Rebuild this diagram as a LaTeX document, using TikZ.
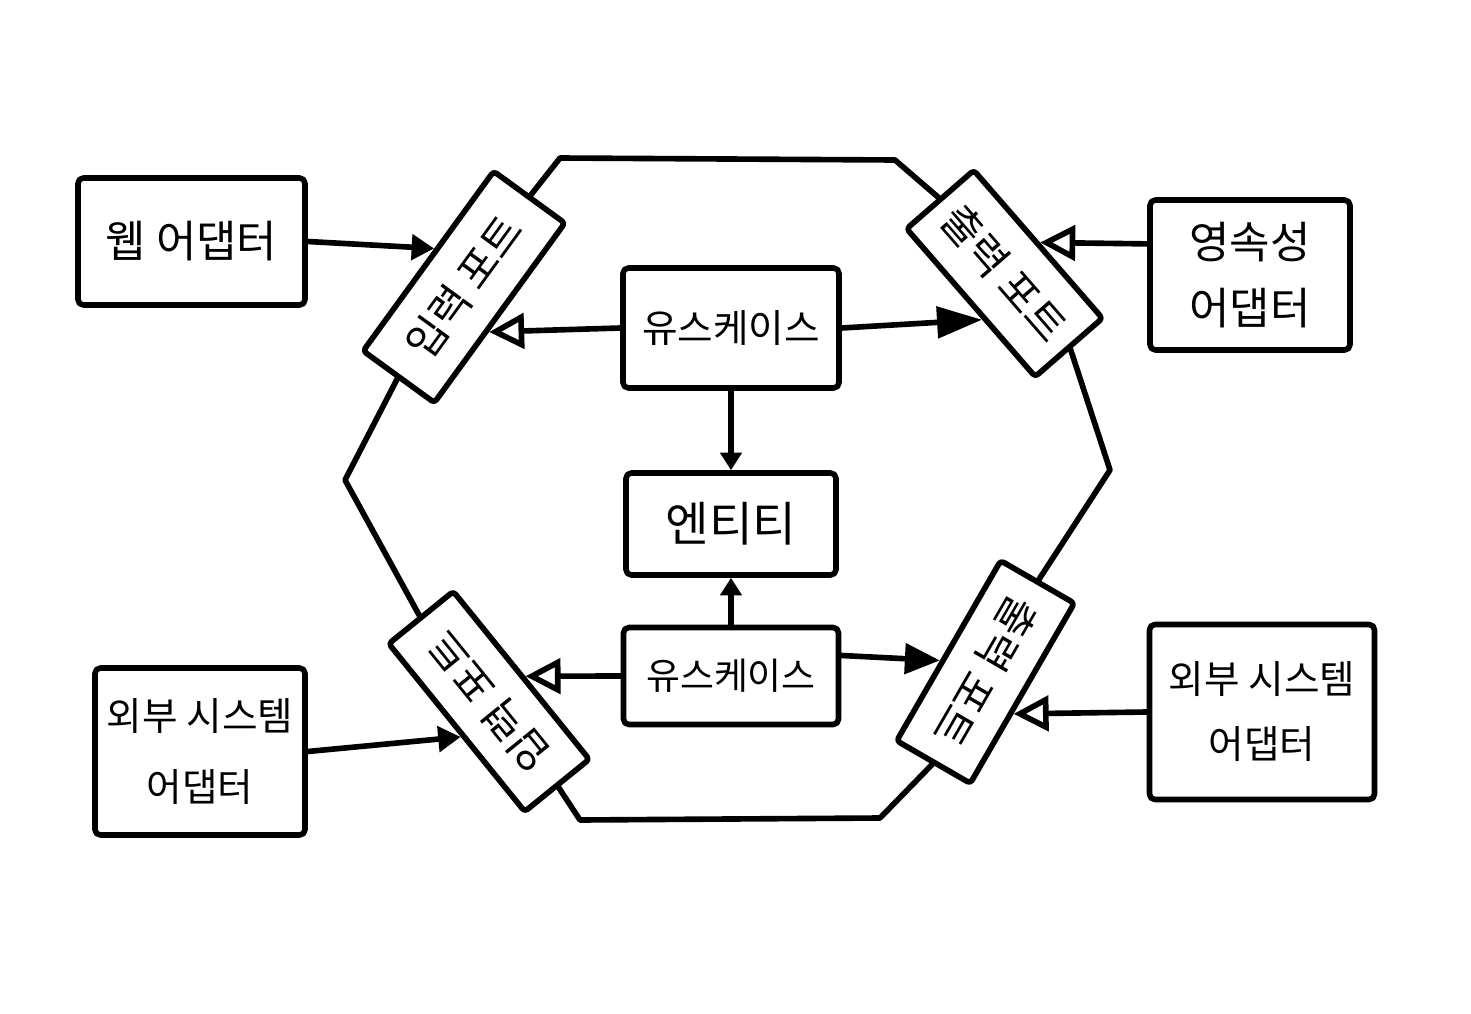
\documentclass[tikz,border=0pt]{standalone}
\usepackage{fontspec}
\setmainfont{Noto Sans CJK KR}
\usetikzlibrary{arrows.meta,calc}
\begin{document}
\begin{tikzpicture}[x=0.02cm,y=-0.02cm,
  line width=3.2pt, line cap=round, line join=round,
  box/.style={draw, rounded corners=3pt, align=center, inner sep=0pt},
  port/.style={draw, rounded corners=2pt, inner sep=0pt, font=\fontsize{24}{28}\selectfont},
  uses/.style={-{Triangle[length=0.45cm,width=0.5cm]}},
  calls/.style={-{Triangle[length=0.9cm,width=0.62cm]}},
  callssmall/.style={-{Triangle[length=0.7cm,width=0.6cm]}},
  impl/.style={-{Triangle[open,length=0.7cm,width=0.7cm]}},
  dep/.style={-{Triangle[length=0.35cm,width=0.42cm]}},
]
\fill[white] (0,0) rectangle (1471,1014);
\useasboundingbox (0,0) rectangle (1471,1014);

% outer adapters
\node[box, minimum width=4.54cm, minimum height=2.54cm, font=\fontsize{25}{30}\selectfont] (web) at (191.5,241.5) {웹 어댑터};
\node[box, minimum width=4cm, minimum height=3cm, font=\fontsize{25}{38}\selectfont] (pers) at (1250,275) {영속성\\어댑터};
\node[box, minimum width=4.2cm, minimum height=3.34cm, font=\fontsize{22}{40}\selectfont] (extL) at (200,751.5) {외부 시스템\\어댑터};
\node[box, minimum width=4.5cm, minimum height=3.5cm, font=\fontsize{22}{37}\selectfont] (extR) at (1262,712) {외부 시스템\\어댑터};

% inner application
\node[box, minimum width=4.32cm, minimum height=2.4cm, font=\fontsize{22}{26}\selectfont] (uc1) at (731,328) {유스케이스};
\node[box, minimum width=4.2cm, minimum height=2.04cm, font=\fontsize{27}{30}\selectfont] (ent) at (731,524) {엔티티};
\node[box, minimum width=4.3cm, minimum height=1.94cm, font=\fontsize{21}{26}\selectfont] (uc2) at (731,676) {유스케이스};

% ports
\node[port, rotate=54, minimum width=4.44cm, minimum height=1.76cm] (tl) at (464,287) {입력 포트};
\node[port, rotate=-49, minimum width=3.92cm, minimum height=1.78cm] (tr) at (1004.5,273.5) {출력 포트};
\node[port, rotate=-51, minimum width=4.32cm, minimum height=1.66cm] (bl) at (489,701.5) {\rotatebox{180}{입력 포트}};
\node[port, rotate=60, minimum width=4.16cm, minimum height=1.7cm] (br) at (985.5,672) {\rotatebox{180}{출력 포트}};

% hexagon
\coordinate (hTL) at (560,158);
\coordinate (hTR) at (895,160);
\coordinate (hR) at (1110,470);
\coordinate (hBR) at (880,818);
\coordinate (hBL) at (580,820);
\coordinate (hL) at (345,480);
\draw (tl.east) -- (hTL) -- (hTR) -- (tr.west);
\draw (tr.east) -- (hR) -- (br.east);
\draw (br.west) -- (hBR) -- (hBL) -- (bl.east);
\draw (bl.west) -- (hL) -- (tl.west);

% connectors
\draw[uses] (web.east) -- ($(tl.north west)!0.56!(tl.north east)$);
\draw[impl] (uc1.west) -- ($(tl.south west)!0.405!(tl.south east)$);
\draw[calls] (uc1.east) -- ($(tr.south west)!0.6!(tr.south east)$);
\draw[impl] ($(pers.north west)!0.3!(pers.south west)$) -- ($(tr.north west)!0.5!(tr.north east)$);
\draw[dep] (uc1.south) -- (ent.north);
\draw[dep] (uc2.north) -- (ent.south);
\draw[impl] (uc2.west) -- ($(bl.north west)!0.515!(bl.north east)$);
\draw[uses] (extL.east) -- ($(bl.south west)!0.544!(bl.south east)$);
\draw[callssmall] ($(uc2.north east)!0.3!(uc2.south east)$) -- ($(br.north west)!0.44!(br.north east)$);
\draw[impl] (extR.west) -- ($(br.south west)!0.396!(br.south east)$);
\end{tikzpicture}
\end{document}
